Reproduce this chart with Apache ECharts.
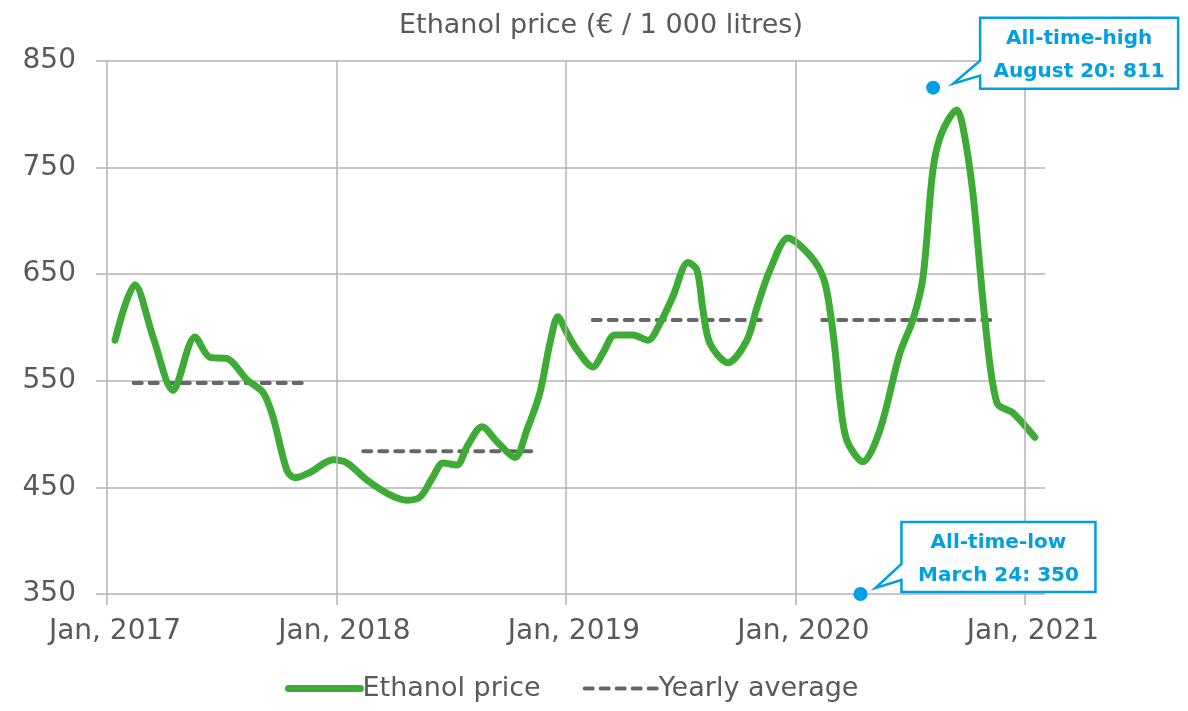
<!DOCTYPE html>
<html>
<head>
<meta charset="utf-8">
<script src="https://cdn.jsdelivr.net/npm/echarts@6/dist/echarts.min.js"></script>
<style>
  html, body { margin: 0; padding: 0; background: #fff; }
  #chart { width: 1188px; height: 711px; }
</style>
</head>
<body>
<div id="chart"></div>
<script>
// x position in months counted from Jan 2017 (0 = Jan 2017, 48 = Jan 2021)
var monthPos = [0.42, 1.46, 2.41, 3.45, 4.60, 5.39, 6.27, 7.32, 8.16, 8.68, 9.41, 9.83, 10.61, 11.82,
  12.55, 13.59, 14.80, 15.69, 16.37, 17.05, 17.57, 18.30, 18.82, 19.61, 20.44, 21.33, 21.96, 22.64,
  23.16, 23.58, 24.05, 24.58, 25.41, 25.93, 26.56, 27.50, 28.29, 28.92, 29.59, 30.38, 30.85, 31.16,
  31.53, 32.47, 33.46, 33.99, 34.67, 35.61, 36.24, 37.12, 37.54, 37.80, 38.07, 38.33, 38.69, 39.53,
  40.42, 41.46, 42.14, 42.67, 43.19, 43.66, 44.44, 44.76, 45.28, 45.91, 46.54, 47.37, 48.52]
var price = [588, 640, 591, 541, 591, 572, 571, 551, 539, 516, 466, 459, 464, 476,
  473, 457, 443, 438, 441, 460, 473, 471, 488, 507, 492, 478, 504, 539,
  585, 610, 595, 579, 563, 576, 593, 593, 588, 604, 629, 661, 654, 617,
  585, 567, 588, 619, 654, 684, 677, 659, 642, 617, 579, 532, 494, 474,
  504, 576, 607, 647, 748, 783, 804, 788, 726, 607, 529, 520, 497]

// yearly average segments
var avgFrom = [1.4, 13.4, 25.4, 37.4]
var avgTo = [10.6, 22.6, 34.6, 46.6]
var avgValue = [548, 484, 607, 607]

var yearTicks = [0, 12, 24, 36, 48]
var yearLabels = ['Jan, 2017', 'Jan, 2018', 'Jan, 2019', 'Jan, 2020', 'Jan, 2021']

// highlighted extremes
var extremePos = [43.2, 39.4]
var extremeValue = [825, 350]
var extremeText = [['All-time-high', 'August 20: 811'], ['All-time-low', 'March 24: 350']]

var GREEN = '#3dab36'
var BLUE = '#009fe3'
var TEXT = '#595959'
var FONT = 'DejaVu Sans'

var priceData = monthPos.map(function (m, i) { return [m, price[i]] })
var avgData = []
avgFrom.forEach(function (f, i) {
  avgData.push([f, avgValue[i]])
  avgData.push([avgTo[i], avgValue[i]])
  avgData.push([avgTo[i] + 0.5, '-'])
})
var extremeData = extremePos.map(function (m, i) { return [m, extremeValue[i]] })

var chart = echarts.init(document.getElementById('chart'))

var option = {
  animation: false,
  backgroundColor: '#fff',
  textStyle: { fontFamily: FONT },
  title: {
    text: 'Ethanol price (€ / 1 000 litres)',
    left: 394,
    top: 7,
    textStyle: { fontFamily: FONT, fontSize: 27, fontWeight: 'normal', color: TEXT }
  },
  grid: {
    left: 96,
    right: 143,
    top: 61,
    bottom: 117,
    containLabel: false,
    outerBoundsMode: 'none'
  },
  legend: {
    left: 280,
    bottom: 4,
    itemWidth: 72,
    itemHeight: 14,
    itemGap: 42,
    textStyle: { fontFamily: FONT, fontSize: 27, color: TEXT, padding: [0, 0, 0, -3] },
    data: [
      { name: 'Ethanol price', itemStyle: { opacity: 0 }, lineStyle: { width: 7, cap: 'round' } },
      { name: 'Yearly average', itemStyle: { opacity: 0 }, lineStyle: { width: 4, type: [8, 8], cap: 'round' } }
    ]
  },
  xAxis: {
    type: 'value',
    min: -0.575,
    max: 49.05,
    splitLine: { show: false },
    axisLine: { show: false },
    axisTick: { show: true, customValues: yearTicks, length: 11, lineStyle: { color: '#b3b3b3', width: 1.5 } },
    axisLabel: {
      customValues: yearTicks,
      margin: 24,
      fontFamily: FONT,
      fontSize: 28,
      color: TEXT,
      padding: [0, 0, 0, 16],
      formatter: function (v) { return yearLabels[yearTicks.indexOf(v)] }
    }
  },
  yAxis: {
    type: 'value',
    min: 350,
    max: 850,
    interval: 100,
    axisLine: { show: false },
    axisTick: { show: false },
    splitLine: { lineStyle: { color: '#b3b3b3', width: 1.5 } },
    axisLabel: { margin: 20, fontFamily: FONT, fontSize: 28, color: TEXT }
  },
  series: [
    {
      // vertical year grid lines
      name: 'grid',
      type: 'line',
      data: [],
      z: 1,
      silent: true,
      markLine: {
        silent: true,
        symbol: 'none',
        label: { show: false },
        lineStyle: { color: '#b3b3b3', width: 1.5, type: 'solid' },
        data: yearTicks.map(function (t) { return { xAxis: t } })
      }
    },
    {
      name: 'Yearly average',
      type: 'line',
      data: avgData,
      z: 2,
      symbol: 'none',
      connectNulls: false,
      lineStyle: { color: '#666666', width: 4, type: [8, 8], cap: 'round' },
      itemStyle: { color: '#666666' }
    },
    {
      name: 'Ethanol price',
      type: 'line',
      data: priceData,
      z: 3,
      symbol: 'none',
      smooth: 0.3,
      lineStyle: { color: GREEN, width: 7, cap: 'round', join: 'round' },
      itemStyle: { color: GREEN }
    },
    {
      name: 'extremes',
      type: 'scatter',
      data: extremeData,
      z: 4,
      symbolSize: 14,
      itemStyle: { color: BLUE, opacity: 1 }
    }
  ]
}

chart.setOption(option)

// callout boxes next to the extreme dots, placed relative to the dot pixel
function callout (i, dx, dy, w, h, tipDx, tipDy, a1, a2) {
  var p = chart.convertToPixel({ gridIndex: 0 }, extremeData[i])
  var L = p[0] + dx
  var T = p[1] + dy
  var R = L + w
  var B = T + h
  var pts = [[L, T], [R, T], [R, B], [L, B], [L, p[1] + a2], [p[0] + tipDx, p[1] + tipDy], [L, p[1] + a1]]
  return [
    {
      type: 'polygon',
      z: 10,
      shape: { points: pts },
      style: { fill: '#fff', stroke: BLUE, lineWidth: 2.5 }
    },
    {
      type: 'text',
      z: 11,
      style: {
        text: extremeText[i].join('\n'),
        x: L + w / 2,
        y: T + h / 2 + 2,
        align: 'center',
        verticalAlign: 'middle',
        textAlign: 'center',
        textVerticalAlign: 'middle',
        font: 'bold 20px "DejaVu Sans"',
        fill: BLUE,
        lineHeight: 33
      }
    }
  ]
}

chart.setOption({
  graphic: [].concat(
    callout(0, 47, -70, 198, 71, 20, -4, -27, -12),
    callout(1, 41, -72, 194, 70, 15, -6, -30, -14)
  )
})
</script>
</body>
</html>
